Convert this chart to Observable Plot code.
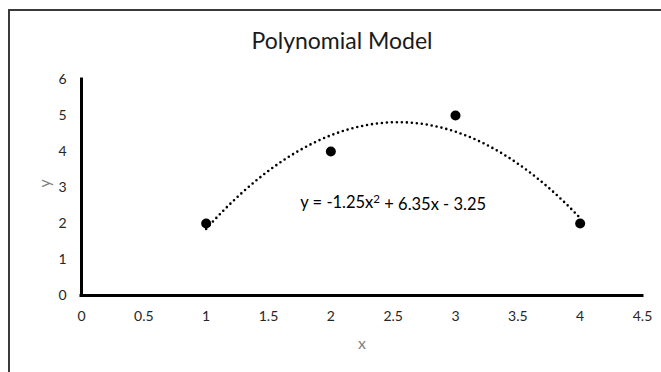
<!DOCTYPE html>
<html><head><meta charset="utf-8">
<script src="https://cdn.jsdelivr.net/npm/d3@7"></script>
<script src="https://cdn.jsdelivr.net/npm/@observablehq/plot@0.6"></script>
<style>
html,body{margin:0;padding:0;background:#fff;overflow:hidden;}
#wrap{position:relative;width:661px;height:372px;overflow:hidden;background:#fff;}
#border{position:absolute;left:8px;top:9px;width:800px;height:500px;border-left:2px solid #3a3a3a;border-top:2px solid #3a3a3a;}
#chart{position:absolute;left:0;top:0;}
</style></head><body>
<div id="wrap"><div id="border"></div><div id="chart"></div></div>
<script>
const title = "Polynomial Model";
const xLabel = "x";
const yLabel = "y";
const xValues = [1, 2, 3, 4];
const yValues = [2, 4, 5, 2];
const xTicks = [0, 0.5, 1, 1.5, 2, 2.5, 3, 3.5, 4, 4.5];
const yTicks = [0, 1, 2, 3, 4, 5, 6];
const equationParts = ["y = -1.25x", "2", " + 6.35x - 3.25"];
const equationLabel = equationParts.join("");
const equationAt = [2.5, 2.58];

const points = xValues.map((x, i) => ({x, y: yValues[i]}));

// least-squares quadratic trendline fitted to the data (as Excel does)
function polyfit2(xs, ys) {
  const S = k => d3.sum(xs, x => x ** k);
  const T = k => d3.sum(xs, (x, i) => x ** k * ys[i]);
  const A = [[S(4), S(3), S(2), T(2)], [S(3), S(2), S(1), T(1)], [S(2), S(1), S(0), T(0)]];
  for (let c = 0; c < 3; c++) {
    for (let r = c + 1; r < 3; r++) {
      const f = A[r][c] / A[c][c];
      for (let k = c; k < 4; k++) A[r][k] -= f * A[c][k];
    }
  }
  const s = [0, 0, 0];
  for (let r = 2; r >= 0; r--) {
    let v = A[r][3];
    for (let k = r + 1; k < 3; k++) v -= A[r][k] * s[k];
    s[r] = v / A[r][r];
  }
  return s; // [a, b, c]
}
const [a, b, c] = polyfit2(xValues, yValues);
const [x0, x1] = d3.extent(xValues);
const trend = d3.range(0, 301).map(i => {
  const x = x0 + (x1 - x0) * i / 300;
  return {x, y: a * x * x + b * x + c};
});

const chart = Plot.plot({
  width: 661, height: 372,
  marginLeft: 81, marginRight: 19, marginTop: 79, marginBottom: 77,
  style: {fontFamily: "Lato, 'Open Sans', sans-serif", background: "transparent", overflow: "visible"},
  x: {domain: [0, 4.5]},
  y: {domain: [0, 6]},
  marks: [
    Plot.axisX(xTicks, {tickSize: 0, tickPadding: 16, fontSize: 14, fill: "#262626", label: null, tickFormat: d => String(d)}),
    Plot.axisY(yTicks, {tickSize: 0, tickPadding: 15, fontSize: 14, fill: "#262626", label: null, tickFormat: d => String(d)}),
    Plot.ruleY([0], {stroke: "#000", strokeWidth: 3, strokeLinecap: "square"}),
    Plot.ruleX([0], {stroke: "#000", strokeWidth: 3, strokeLinecap: "square"}),
    Plot.line(trend, {x: "x", y: "y", stroke: "#000", strokeWidth: 2.6, strokeDasharray: "0 5", strokeLinecap: "round"}),
    Plot.dot(points, {x: "x", y: "y", r: 5, fill: "#000", stroke: null}),
    Plot.text([{label: equationLabel, x: equationAt[0], y: equationAt[1]}], {x: "x", y: "y", text: "label", fontSize: 16.5, fill: "#000", className: "eq"}),
    Plot.text([title], {frameAnchor: "top", dx: -20, dy: -31, lineAnchor: "bottom", fontSize: 23, fill: "#1a1a1a"}),
    Plot.text([xLabel], {frameAnchor: "bottom", dy: 53, lineAnchor: "bottom", fontSize: 16, fill: "#7f7f7f"}),
    Plot.text([yLabel], {frameAnchor: "left", dx: -37, rotate: -90, fontSize: 16, fill: "#7f7f7f"})
  ]
});
// render the exponent as a real superscript
d3.select(chart).selectAll("text").filter(function() { return this.textContent === equationLabel; }).each(function() {
  const t = d3.select(this);
  t.text(null);
  t.append("tspan").text(equationParts[0]);
  t.append("tspan").attr("dy", "-0.4em").attr("font-size", "70%").text(equationParts[1]);
  t.append("tspan").attr("dy", "0.4em").text(equationParts[2]);
});
document.getElementById("chart").appendChild(chart);
</script>
</body></html>
